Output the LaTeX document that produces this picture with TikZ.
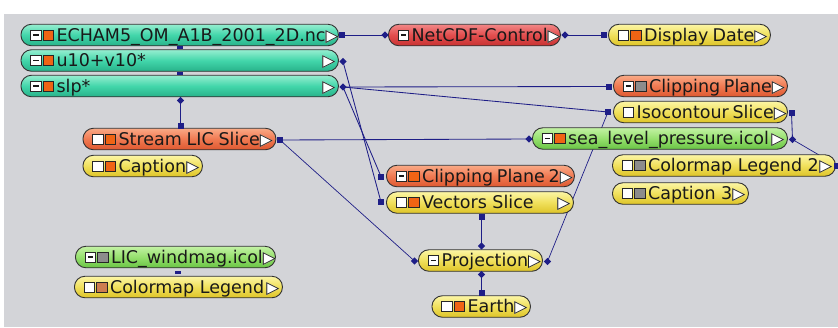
\documentclass[tikz,border=0pt]{standalone}
\usepackage{fontspec}
\newfontfamily\nf{DejaVu Sans}
\usetikzlibrary{shapes.geometric}
\definecolor{bg}{RGB}{211,212,216}
\definecolor{navy}{RGB}{30,30,135}
\definecolor{icorange}{RGB}{240,100,20}
\definecolor{icgray}{RGB}{140,140,140}
\definecolor{icbrown}{RGB}{205,125,80}
\setlength\fboxsep{0pt}
\setlength\fboxrule{0.9pt}
\newcommand\icbox[1]{\raisebox{1.4pt}{\fcolorbox{black!85}{#1}{\rule{0pt}{9.4pt}\hspace{9.4pt}}}}
\newcommand\icM{\raisebox{1.4pt}{\fcolorbox{black!85}{white}{\rule{0pt}{9.4pt}\hspace{1.9pt}\rule[4pt]{5.6pt}{1.4pt}\hspace{1.9pt}}}}
\newcommand\icW{\icbox{white}}
\newcommand\icO{\icbox{icorange}}
\newcommand\icG{\icbox{icgray}}
\newcommand\icB{\icbox{icbrown}}
\newcommand\trig{{\fontsize{17}{17}\selectfont\rlap{\textcolor{white}{▶}}▷}}
\newcommand\nd[7]{\node[box,#5] (#1) at (#2,#4) {\hbox to #3pt{\rule[-4.5pt]{0pt}{21.5pt}\hspace{9.5pt}#6\hspace{2.5pt}#7\hfill\trig\hspace{3pt}}};}
\tikzset{
  box/.style={draw=black!80, line width=0.9pt, rounded corners=10.5pt, inner sep=0pt,
    anchor=west, font=\nf\fontsize{17.5}{17.5}\selectfont, text=black!90},
  teal/.style={top color={rgb,255:red,150;green,238;blue,208}, bottom color={rgb,255:red,40;green,178;blue,138}, middle color={rgb,255:red,66;green,214;blue,170}},
  redn/.style={top color={rgb,255:red,242;green,135;blue,135}, bottom color={rgb,255:red,200;green,50;blue,50}, middle color={rgb,255:red,226;green,78;blue,78}},
  orng/.style={top color={rgb,255:red,250;green,170;blue,135}, bottom color={rgb,255:red,222;green,88;blue,48}, middle color={rgb,255:red,240;green,122;blue,82}},
  yell/.style={top color={rgb,255:red,252;green,246;blue,165}, bottom color={rgb,255:red,222;green,196;blue,40}, middle color={rgb,255:red,240;green,224;blue,92}},
  gren/.style={top color={rgb,255:red,195;green,242;blue,165}, bottom color={rgb,255:red,105;green,196;blue,68}, middle color={rgb,255:red,150;green,224;blue,110}},
  conn/.style={draw=navy, line width=0.85pt},
  sq/.style={fill=navy, inner sep=0pt, minimum size=6pt, draw=none},
  dia/.style={diamond, fill=navy, inner sep=0pt, minimum size=7.5pt, draw=none},
  stub/.style={fill=navy, inner sep=0pt, minimum width=6pt, minimum height=3pt, draw=none}
}
\begin{document}
\begin{tikzpicture}[x=1pt,y=-1pt]
\useasboundingbox (0,0) rectangle (838,327);
\fill[white] (0,0) rectangle (838,327);
\fill[bg] (4,14) rectangle (838,327);
% ports
\coordinate (p-echam) at (341.5,35);
\coordinate (p-netin) at (385,35);
\coordinate (p-netout) at (565,35);
\coordinate (p-datein) at (603.5,35);
\coordinate (p-u10) at (343,61.5);
\coordinate (p-slp) at (343,87);
\coordinate (p-slpb) at (180.5,100.5);
\coordinate (p-licin) at (180.5,126);
\coordinate (p-clipin) at (609,86.5);
\coordinate (p-isoin) at (608,112);
\coordinate (p-clip2in) at (381,176.5);
\coordinate (p-vecin) at (381,202);
\coordinate (p-licout) at (280,140);
\coordinate (p-slpcolin) at (529,139);
\coordinate (p-projin) at (414.5,261);
\coordinate (p-vecout) at (481.5,216.5);
\coordinate (p-projtop) at (481.5,246);
\coordinate (p-projbot) at (481.5,274.5);
\coordinate (p-earthin) at (481.5,293);
\coordinate (p-projr) at (547.5,261.5);
\coordinate (p-isoout) at (791.5,113);
\coordinate (p-slpcolout) at (792.5,139.5);
\coordinate (p-cml2in) at (837,165.5);
\coordinate (s-1) at (180,47.5);
\coordinate (s-2) at (180,73);
\coordinate (s-3) at (178,272);
% connectors
\draw[conn] (p-echam) -- (p-netin);
\draw[conn] (p-netout) -- (p-datein);
\draw[conn] (p-slpb) -- (p-licin);
\draw[conn] (p-slp) -- (p-clipin);
\draw[conn] (p-slp) -- (p-isoin);
\draw[conn] (p-u10) -- (p-vecin);
\draw[conn] (p-slp) -- (p-clip2in);
\draw[conn] (p-licout) -- (p-slpcolin);
\draw[conn, line width=0.7pt] (p-licout) -- (p-projin);
\draw[conn] (p-vecout) -- (p-projtop);
\draw[conn] (p-projbot) -- (p-earthin);
\draw[conn, line width=0.7pt] (p-isoin) -- (p-projr);
\draw[conn] (p-isoout) -- (p-slpcolout);
\draw[conn, line width=0.7pt] (p-slpcolout) -- (p-cml2in);
% modules
\nd{echam}{20.5}{317.5}{35}{teal}{\icM\hspace{1.2pt}\icO}{ECHAM5\_OM\_A1B\_2001\_2D.nc}
\nd{u10}{20.5}{317.5}{60.5}{teal}{\icM\hspace{1.2pt}\icO}{u10+v10*}
\nd{slp}{20.5}{317.5}{86}{teal}{\icM\hspace{1.2pt}\icO}{slp*}
\nd{netcdf}{388}{172}{35}{redn}{\icM}{NetCDF-Control}
\nd{date}{608}{162}{35}{yell}{\icW\hspace{1.2pt}\icO}{Display Date}
\nd{clip}{613}{174}{86}{orng}{\icM\hspace{1.2pt}\icG}{Clipping Plane}
\nd{iso}{613}{174}{112}{yell}{\icW}{Isocontour Slice}
\nd{lic}{82.5}{193}{139}{orng}{\icW\hspace{1.2pt}\icO}{Stream LIC Slice}
\nd{slpcol}{532}{255}{138.5}{gren}{\icM\hspace{1.2pt}\icO}{sea\_level\_pressure.icol}
\nd{cap}{82.5}{119.5}{166}{yell}{\icW\hspace{1.2pt}\icO}{Caption}
\nd{cml2}{612}{223}{165.5}{yell}{\icW\hspace{1.2pt}\icG}{Colormap Legend 2}
\nd{clip2}{386}{188}{176}{orng}{\icM\hspace{1.2pt}\icO}{Clipping Plane 2}
\nd{cap3}{612}{136}{193.5}{yell}{\icW\hspace{1.2pt}\icG}{Caption 3}
\nd{vec}{386}{187}{202.5}{yell}{\icW\hspace{1.2pt}\icO}{Vectors Slice}
\nd{licw}{75}{200}{257}{gren}{\icM\hspace{1.2pt}\icG}{LIC\_windmag.icol}
\nd{proj}{418}{124}{260.5}{yell}{\icM}{Projection}
\nd{cml}{74}{208}{287}{yell}{\icW\hspace{1.2pt}\icB}{Colormap Legend}
\nd{earth}{431.5}{98.5}{306.5}{yell}{\icW\hspace{1.2pt}\icO}{Earth}
% port marks
\node[sq] (m-echam) at (p-echam) {};
\node[dia] (m-netin) at (p-netin) {};
\node[dia] (m-netout) at (p-netout) {};
\node[sq] (m-datein) at (p-datein) {};
\node[dia] (m-u10) at (p-u10) {};
\node[dia] (m-slp) at (p-slp) {};
\node[dia] (m-slpb) at (p-slpb) {};
\node[sq] (m-licin) at (p-licin) {};
\node[sq] (m-clipin) at (p-clipin) {};
\node[sq] (m-isoin) at (p-isoin) {};
\node[sq] (m-clip2in) at (p-clip2in) {};
\node[sq] (m-vecin) at (p-vecin) {};
\node[sq] (m-licout) at (p-licout) {};
\node[dia] (m-slpcolin) at (p-slpcolin) {};
\node[dia] (m-projin) at (p-projin) {};
\node[sq] (m-vecout) at (p-vecout) {};
\node[dia] (m-projtop) at (p-projtop) {};
\node[dia] (m-projbot) at (p-projbot) {};
\node[sq] (m-earthin) at (p-earthin) {};
\node[dia] (m-projr) at (p-projr) {};
\node[sq] (m-isoout) at (p-isoout) {};
\node[dia] (m-slpcolout) at (p-slpcolout) {};
\node[sq] (m-cml2in) at (p-cml2in) {};
\node[stub] (m-s1) at (s-1) {};
\node[stub] (m-s2) at (s-2) {};
\node[stub] (m-s3) at (s-3) {};
\end{tikzpicture}
\end{document}
